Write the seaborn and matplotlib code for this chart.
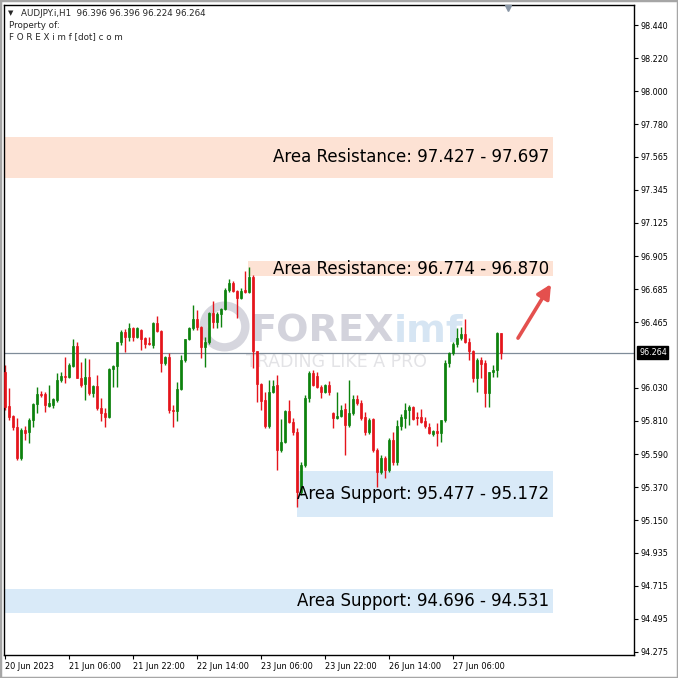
import numpy as np
import pandas as pd
import matplotlib
matplotlib.use("Agg")
import matplotlib.pyplot as plt
import seaborn as sns
from matplotlib.patches import Rectangle

# ---------------- data ----------------
symbol = "AUDJPY.i,H1"
opens = [96.135, 95.908, 95.842, 95.769, 95.563, 95.749, 95.736, 95.815, 95.922, 95.988,
         95.988, 95.908, 95.915, 95.948, 96.081, 96.108, 96.101, 96.174, 96.307, 96.095,
         96.055, 96.101, 95.995, 96.041, 95.895, 95.862, 95.835, 96.155, 96.174, 96.334,
         96.400, 96.367, 96.427, 96.367, 96.414, 96.360, 96.327, 96.314, 96.460, 96.407,
         96.194, 96.234, 95.882, 95.875, 96.021, 96.214, 96.354, 96.427, 96.487, 96.434,
         96.301, 96.334, 96.527, 96.467, 96.520, 96.553, 96.679, 96.726, 96.673, 96.626,
         96.679, 96.666, 96.766, 96.274, 96.055, 95.948, 95.775, 96.002, 96.048, 95.616,
         95.669, 95.875, 95.802, 95.736, 95.337, 95.516, 95.961, 96.128, 96.108, 96.035,
         96.002, 96.048, 95.862, 95.828, 95.842, 95.888, 95.782, 95.862, 95.955, 95.928,
         95.835, 95.736, 95.822, 95.616, 95.470, 95.563, 95.483, 95.682, 95.536, 95.775,
         95.828, 95.882, 95.902, 95.835, 95.835, 95.808, 95.769, 95.722, 95.742, 95.729,
         95.815, 96.194, 96.261, 96.320, 96.360, 96.387, 96.334, 96.274, 96.095, 96.214,
         96.194, 95.995, 96.135, 96.148, 96.396]
highs = [96.181, 96.028, 95.848, 95.828, 95.762, 95.775, 95.828, 95.928, 96.035, 96.008,
         96.002, 96.048, 95.961, 96.128, 96.135, 96.234, 96.194, 96.354, 96.334, 96.201,
         96.227, 96.221, 96.048, 96.114, 95.961, 95.895, 96.161, 96.181, 96.334, 96.414,
         96.420, 96.460, 96.434, 96.434, 96.420, 96.367, 96.367, 96.467, 96.507, 96.414,
         96.241, 96.261, 95.915, 96.068, 96.247, 96.354, 96.434, 96.580, 96.547, 96.440,
         96.367, 96.533, 96.607, 96.533, 96.560, 96.693, 96.752, 96.739, 96.679, 96.693,
         96.806, 96.832, 96.779, 96.274, 96.061, 96.002, 96.081, 96.081, 96.114, 95.822,
         95.882, 95.948, 95.828, 95.762, 95.536, 95.981, 96.141, 96.148, 96.135, 96.048,
         96.055, 96.075, 95.868, 96.002, 95.915, 95.928, 96.081, 95.981, 95.981, 95.948,
         95.868, 95.828, 95.828, 95.629, 95.583, 95.576, 95.695, 95.736, 95.815, 95.855,
         95.928, 95.915, 95.908, 95.868, 95.888, 95.835, 95.795, 95.749, 95.795, 95.815,
         96.214, 96.267, 96.334, 96.427, 96.434, 96.487, 96.360, 96.281, 96.227, 96.234,
         96.214, 96.135, 96.181, 96.400, 96.396]
lows = [95.882, 95.815, 95.749, 95.549, 95.549, 95.682, 95.662, 95.769, 95.862, 95.968,
        95.868, 95.902, 95.895, 95.935, 96.068, 96.061, 96.095, 96.168, 96.095, 96.035,
        95.948, 95.981, 95.968, 95.882, 95.808, 95.769, 95.828, 96.035, 96.035, 96.314,
        96.267, 96.341, 96.341, 96.360, 96.281, 96.294, 96.314, 96.294, 96.400, 96.135,
        96.181, 95.862, 95.769, 95.808, 96.015, 96.201, 96.347, 96.414, 96.414, 96.227,
        96.168, 96.320, 96.427, 96.427, 96.434, 96.547, 96.666, 96.666, 96.493, 96.620,
        96.660, 96.660, 96.161, 95.935, 95.882, 95.762, 95.762, 95.995, 95.483, 95.603,
        95.662, 95.795, 95.715, 95.237, 95.317, 95.503, 95.935, 96.041, 96.028, 95.961,
        95.995, 95.981, 95.762, 95.822, 95.835, 95.583, 95.769, 95.848, 95.915, 95.815,
        95.715, 95.722, 95.603, 95.370, 95.457, 95.430, 95.470, 95.516, 95.516, 95.749,
        95.762, 95.782, 95.815, 95.782, 95.795, 95.762, 95.722, 95.709, 95.642, 95.669,
        95.802, 96.168, 96.247, 96.301, 96.347, 96.327, 96.214, 96.068, 96.002, 96.095,
        95.902, 95.902, 96.101, 96.101, 96.224]
closes = [95.902, 95.835, 95.769, 95.563, 95.749, 95.729, 95.815, 95.922, 95.988, 95.981,
          95.915, 95.928, 95.955, 96.081, 96.108, 96.101, 96.181, 96.307, 96.095, 96.048,
          96.101, 95.995, 96.041, 95.895, 95.862, 95.835, 96.155, 96.174, 96.334, 96.400,
          96.367, 96.427, 96.367, 96.427, 96.354, 96.320, 96.320, 96.460, 96.407, 96.194,
          96.234, 95.882, 95.875, 96.021, 96.214, 96.354, 96.427, 96.487, 96.434, 96.301,
          96.334, 96.527, 96.467, 96.520, 96.553, 96.679, 96.726, 96.673, 96.626, 96.673,
          96.666, 96.766, 96.274, 96.055, 95.941, 95.775, 96.002, 96.041, 95.616, 95.669,
          95.875, 95.802, 95.736, 95.337, 95.516, 95.961, 96.128, 96.048, 96.035, 96.002,
          96.048, 96.002, 95.828, 95.842, 95.882, 95.782, 95.862, 95.955, 95.928, 95.828,
          95.736, 95.815, 95.616, 95.470, 95.563, 95.483, 95.682, 95.536, 95.775, 95.835,
          95.882, 95.902, 95.822, 95.828, 95.802, 95.775, 95.729, 95.742, 95.729, 95.815,
          96.194, 96.261, 96.320, 96.360, 96.387, 96.334, 96.274, 96.095, 96.214, 96.188,
          95.995, 96.135, 96.148, 96.394, 96.264]

time_tick_bars = [0, 16, 32, 48, 64, 80, 96, 112]
time_tick_labels = ["20 Jun 2023", "21 Jun 06:00", "21 Jun 22:00", "22 Jun 14:00",
                    "23 Jun 06:00", "23 Jun 22:00", "26 Jun 14:00", "27 Jun 06:00"]
price_ticks = [98.440, 98.220, 98.000, 97.780, 97.565, 97.345, 97.125, 96.905, 96.685,
               96.465, 96.030, 95.810, 95.590, 95.370, 95.150, 94.935, 94.715, 94.495, 94.275]
last_price = 96.264

zone_low = [97.427, 96.774, 95.172, 94.531]
zone_high = [97.697, 96.870, 95.477, 94.696]
zone_start = [-0.25, 60.75, 73.0, -0.25]
zone_end = 137.0
zone_kind = ["res", "res", "sup", "sup"]
zone_text = ["Area Resistance: 97.427 - 97.697", "Area Resistance: 96.774 - 96.870",
             "Area Support: 95.477 - 95.172", "Area Support: 94.696 - 94.531"]

arrow_from = (128.25, 96.360)
arrow_to = (136.5, 96.719)

# ---------------- style ----------------
sns.set_theme(style="white")
plt.rcParams["font.family"] = ["DejaVu Sans"]

GREEN = "#0d820d"
RED = "#e5141b"
ZONE_COL = {"res": "#fde2d4", "sup": "#d9eaf8"}

df = pd.DataFrame({"o": opens, "h": highs, "l": lows, "c": closes})
df["x"] = np.arange(len(df))
df["up"] = df["c"] >= df["o"]
df["col"] = np.where(df["up"], GREEN, RED)
df["bot"] = df[["o", "c"]].min(axis=1)
df["hgt"] = (df["c"] - df["o"]).abs().clip(lower=0.005)

W, H = 678, 678
fig = plt.figure(figsize=(W / 100, H / 100), dpi=100)
fig.patch.set_facecolor("white")
ax = fig.add_axes([4 / W, 23 / H, 630 / W, 650 / H])
ax.set_facecolor("white")

# zones
for lo, hi, st, kind, txt in zip(zone_low, zone_high, zone_start, zone_kind, zone_text):
    ax.add_patch(Rectangle((st, lo), zone_end - st, hi - lo, fc=ZONE_COL[kind], ec="none", zorder=0.5))
    ax.text(zone_end - 1.0, (lo + hi) / 2, txt, ha="right", va="center", fontsize=12,
            color="black", zorder=6)

# watermark
def afx(px):
    return (px - 4) / 630
def afy(py):
    return (655 - py) / 650

ax.plot([afx(224)], [afy(326)], marker="o", markersize=30, mfc="none", mec="#d6d6de",
        mew=6, transform=ax.transAxes, zorder=0.6)
t_forex = ax.text(afx(250), afy(342), "FOREX", transform=ax.transAxes, fontsize=27.5,
                  fontweight="bold", color="#d3d3dc", va="baseline", ha="left", zorder=0.6)
ax.annotate("imf", xy=(1, 0), xycoords=t_forex, fontsize=27.5, fontweight="bold",
            color="#d6e5f3", va="bottom", ha="left", zorder=0.6)
ax.text(afx(246), afy(367), "TRADING LIKE A PRO", transform=ax.transAxes, fontsize=12.5,
        color="#e3e3e6", va="baseline", ha="left", zorder=0.6)

# price line
ax.axhline(last_price, color="#7f8c99", lw=0.9, zorder=1)

# candles
ax.vlines(df["x"], df["l"], df["h"], colors=df["col"], lw=1.0, zorder=2.5)
ax.bar(df["x"], df["hgt"], bottom=df["bot"], width=0.62, color=df["col"],
       edgecolor=df["col"], lw=0.5, zorder=3)

# arrow
ax.annotate("", xy=arrow_to, xytext=arrow_from,
            arrowprops=dict(arrowstyle="-|>,head_length=0.7,head_width=0.35", color="#e4504e",
                            lw=2.6, shrinkA=0, shrinkB=0), zorder=5)

# axes
ax.set_xlim(-0.25, 157.25)
ax.set_ylim(94.255, 98.573)
ax.yaxis.tick_right()
ax.set_yticks(price_ticks)
ax.set_yticklabels([f"{p:.3f}" for p in price_ticks])
ax.set_xticks(time_tick_bars)
ax.set_xticklabels(time_tick_labels)
for lbl in ax.get_xticklabels():
    lbl.set_ha("left")
ax.tick_params(axis="y", which="both", right=True, left=False, labelright=True, labelleft=False,
               length=3, width=0.8, pad=2, labelsize=5.8, colors="black")
ax.tick_params(axis="x", which="both", bottom=True, length=3, width=0.8, pad=2,
               labelsize=5.9, colors="black")
for s in ax.spines.values():
    s.set_color("black")
    s.set_linewidth(1.0)
ax.grid(False)

# last price box
ax.annotate(f"{last_price:.3f}", xy=(1, last_price), xycoords=("axes fraction", "data"),
            xytext=(5, 0), textcoords="offset pixels", ha="left", va="center", fontsize=5.8,
            color="white", bbox=dict(boxstyle="square,pad=0.2", fc="black", ec="black"),
            annotation_clip=False)

# shift marker
ax.plot([afx(508)], [1 - 3 / 650], marker="v", markersize=5, color="#8a97a6",
        transform=ax.transAxes, clip_on=False, zorder=7)

# header texts
hdr = f"{symbol}  {opens[-1]:.3f} {highs[-1]:.3f} {lows[-1]:.3f} {closes[-1]:.3f}"
ax.text(afx(8), afy(13), "\u25BC", transform=ax.transAxes, fontsize=5, va="center", ha="left")
ax.text(afx(21), afy(13), hdr, transform=ax.transAxes, fontsize=6.3, va="center", ha="left")
ax.text(afx(9), afy(25), "Property of:", transform=ax.transAxes, fontsize=6.3, va="center", ha="left")
ax.text(afx(9), afy(37), "F O R E X i m f [dot] c o m", transform=ax.transAxes, fontsize=6.3,
        va="center", ha="left")

# window frame
fig.patches.append(Rectangle((0, 0), 1, 1, transform=fig.transFigure, fill=False,
                             ec="#a6a6a6", lw=2.5))

fig.savefig("out.png", dpi=100, facecolor="white")
